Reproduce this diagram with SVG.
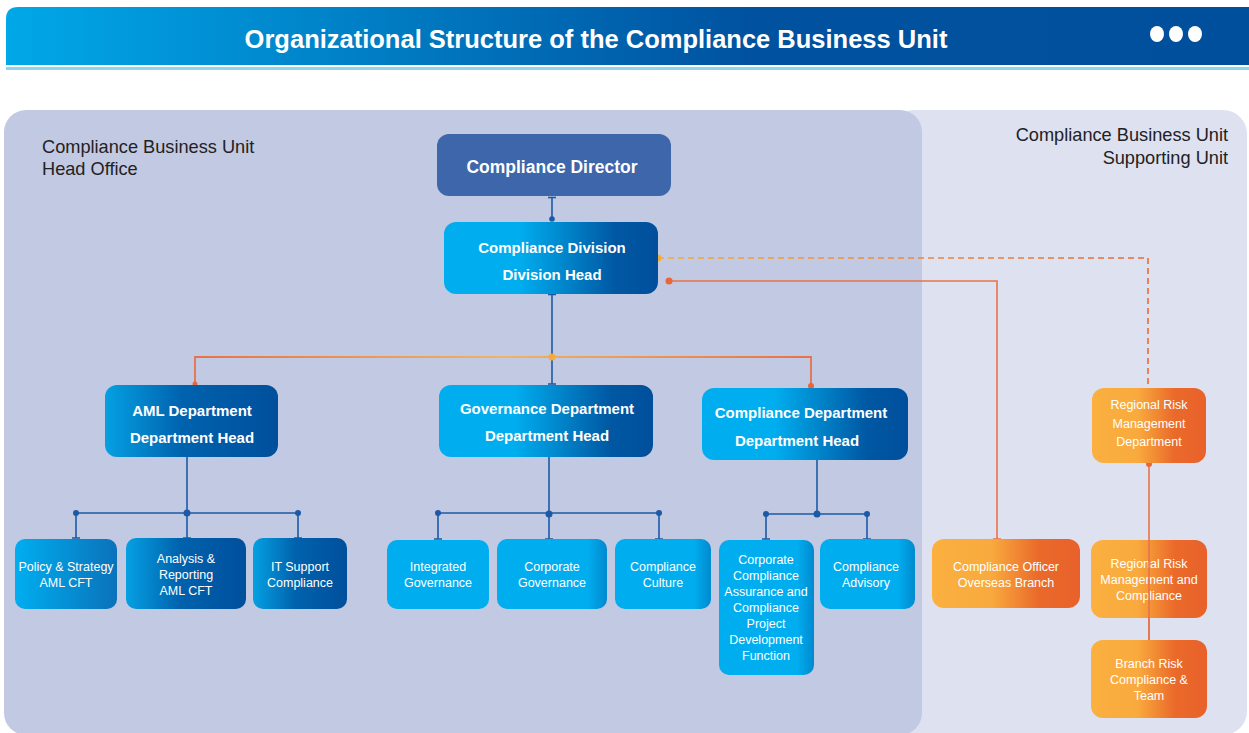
<svg xmlns="http://www.w3.org/2000/svg" width="1249" height="733" viewBox="0 0 1249 733">
<defs>
<linearGradient id="gHeader" x1="0" y1="0" x2="1" y2="0">
<stop offset="0" stop-color="#00a8e8"/><stop offset="0.6" stop-color="#0052a0"/><stop offset="1" stop-color="#004f9c"/>
</linearGradient>
<linearGradient id="gDark" x1="0" y1="0" x2="1" y2="0">
<stop offset="0" stop-color="#05a0e2"/><stop offset="0.45" stop-color="#0062ad"/><stop offset="1" stop-color="#004f9c"/>
</linearGradient>
<linearGradient id="gMid" x1="0" y1="0" x2="1" y2="0">
<stop offset="0" stop-color="#00aeef"/><stop offset="0.35" stop-color="#00aeef"/><stop offset="0.8" stop-color="#0058a3"/><stop offset="1" stop-color="#004f9c"/>
</linearGradient>
<linearGradient id="gLight" x1="0" y1="0" x2="1" y2="0">
<stop offset="0" stop-color="#00aeef"/><stop offset="0.82" stop-color="#00aeef"/><stop offset="1" stop-color="#0089cf"/>
</linearGradient>
<linearGradient id="gPolicy" x1="0" y1="0" x2="1" y2="0">
<stop offset="0" stop-color="#00aeef"/><stop offset="1" stop-color="#0a72bb"/>
</linearGradient>
<linearGradient id="gOrange" x1="0" y1="0" x2="1" y2="0">
<stop offset="0" stop-color="#fbb040"/><stop offset="0.4" stop-color="#f9aa3e"/><stop offset="0.72" stop-color="#ea6a2a"/><stop offset="1" stop-color="#e8612a"/>
</linearGradient>
<linearGradient id="gBranchLine" gradientUnits="userSpaceOnUse" x1="195" y1="0" x2="811" y2="0">
<stop offset="0" stop-color="#e8714a"/><stop offset="0.5" stop-color="#efb463"/><stop offset="1" stop-color="#e8714a"/>
</linearGradient>
<linearGradient id="gDash" gradientUnits="userSpaceOnUse" x1="658" y1="0" x2="1148" y2="0">
<stop offset="0" stop-color="#f7a83a"/><stop offset="1" stop-color="#ec6a34"/>
</linearGradient>
<style>
.title{font-family:"Liberation Sans",Arial,sans-serif;font-weight:bold;fill:#fff;font-size:25.5px}
.lbl{font-family:"Liberation Sans",Arial,sans-serif;font-size:18.2px;fill:#222}
.nb{font-family:"Liberation Sans",Arial,sans-serif;font-weight:bold;font-size:15px;fill:#fff;text-anchor:middle}
.nbl{font-family:"Liberation Sans",Arial,sans-serif;font-weight:bold;font-size:17.5px;fill:#fff;text-anchor:middle}
.ns{font-family:"Liberation Sans",Arial,sans-serif;font-size:12.5px;fill:#fff;text-anchor:middle}
.bl{stroke:#1d5aa6;stroke-width:1.6;fill:none}
.ol{stroke:#e8744a;stroke-width:1.6;fill:none}
.bd{fill:#1d5aa6}
.od{fill:#e8663a}
.yd{fill:#f5ab3c}
</style>
</defs>

<!-- header -->
<path d="M6,19 Q6,7 18,7 H1249 V65 H6 Z" fill="url(#gHeader)"/>
<rect x="6" y="67" width="1243" height="3" fill="#8fd4ec"/>
<text class="title" x="596" y="48" text-anchor="middle">Organizational Structure of the Compliance Business Unit</text>
<ellipse cx="1157" cy="34" rx="7" ry="8" fill="#fff"/>
<ellipse cx="1176" cy="34" rx="7" ry="8" fill="#fff"/>
<ellipse cx="1195" cy="34" rx="7" ry="8" fill="#fff"/>

<!-- backgrounds -->
<rect x="890" y="110" width="357" height="625" rx="24" fill="#dde1f0"/>
<rect x="4" y="110" width="918" height="625" rx="22" fill="#c2c9e2"/>
<text class="lbl" x="42" y="153">Compliance Business Unit</text>
<text class="lbl" x="42" y="175">Head Office</text>
<text class="lbl" x="1228" y="141" text-anchor="end">Compliance Business Unit</text>
<text class="lbl" x="1228" y="164" text-anchor="end">Supporting Unit</text>

<!-- connectors -->
<g id="connectors">
<path class="bl" d="M552,197 V220"/><path class="bl" d="M548,197.5 H556"/><circle class="bd" cx="552" cy="219" r="2.8"/>
<path class="bl" d="M552,294 V384"/><path class="bl" d="M548,294.5 H556"/><path class="bl" d="M548,384 H556"/>
<path d="M195,385 V357 H811 V387" stroke="url(#gBranchLine)" stroke-width="1.8" fill="none"/>
<circle class="od" cx="195" cy="384" r="2.5"/><circle class="od" cx="811" cy="386" r="3"/>
<circle class="yd" cx="552" cy="357" r="3.5"/>
<path d="M658,258 H1148 V397" stroke="url(#gDash)" stroke-width="1.6" stroke-dasharray="6,4" fill="none"/>
<circle class="yd" cx="658" cy="258" r="3.5"/><circle class="od" cx="1148" cy="397" r="3"/>
<path class="ol" d="M669,281 H997 V539"/><circle class="od" cx="669" cy="281" r="3.5"/><path class="ol" d="M993,539 H1001"/>
<path class="ol" d="M1149,463 V640"/><circle class="od" cx="1149" cy="464" r="3"/>
<path class="bl" d="M187,457 V513 M76,513 H298 M76,513 V538 M187,513 V538 M298,513 V538 M72,538 H80 M183,538 H191 M294,538 H302"/>
<circle class="bd" cx="76" cy="513" r="3"/><circle class="bd" cx="187" cy="513" r="3.5"/><circle class="bd" cx="298" cy="513" r="3"/>
<path class="bl" d="M549,457 V513 M438,513 H659 M438,513 V539 M549,513 V539 M659,513 V539 M434,539 H442 M545,539 H553 M655,539 H663"/>
<circle class="bd" cx="438" cy="513" r="3"/><circle class="bd" cx="549" cy="514" r="3.5"/><circle class="bd" cx="659" cy="513" r="3"/>
<path class="bl" d="M817,458 V514 M766,514 H867 M766,514 V539 M867,514 V539 M813,458 H821 M762,539 H770 M863,539 H871"/>
<circle class="bd" cx="766" cy="514" r="3"/><circle class="bd" cx="817" cy="514" r="3.5"/><circle class="bd" cx="867" cy="514" r="3"/>
</g>

<!-- nodes -->
<g id="director"><rect x="437" y="134" width="234" height="62" rx="12" fill="#3d66ab"/>
<text class="nbl" x="552" y="173">Compliance Director</text></g>
<g id="division"><rect x="444" y="222" width="214" height="72" rx="12" fill="url(#gMid)"/>
<text class="nb" x="552" y="253">Compliance Division</text><text class="nb" x="552" y="280">Division Head</text></g>

<g id="aml"><rect x="105" y="385" width="173" height="72" rx="12" fill="url(#gDark)"/>
<text class="nb" x="192" y="416">AML Department</text><text class="nb" x="192" y="443">Department Head</text></g>
<g id="governance"><rect x="439" y="385" width="214" height="72" rx="12" fill="url(#gMid)"/>
<text class="nb" x="547" y="414">Governance Department</text><text class="nb" x="547" y="441">Department Head</text></g>
<g id="compliance-dept"><rect x="702" y="388" width="206" height="72" rx="12" fill="url(#gMid)"/>
<text class="nb" x="801" y="418">Compliance Department</text><text class="nb" x="797" y="446">Department Head</text></g>

<g id="policy"><rect x="15" y="539" width="102" height="70" rx="10" fill="url(#gPolicy)"/>
<text class="ns" x="66" y="571">Policy &amp; Strategy</text><text class="ns" x="66" y="587">AML CFT</text></g>
<g id="analysis"><rect x="126" y="538" width="120" height="71" rx="10" fill="url(#gDark)"/>
<text class="ns" x="186" y="563">Analysis &amp;</text><text class="ns" x="186" y="579">Reporting</text><text class="ns" x="186" y="595">AML CFT</text></g>
<g id="itsupport"><rect x="253" y="538" width="94" height="71" rx="10" fill="url(#gDark)"/>
<text class="ns" x="300" y="571">IT Support</text><text class="ns" x="300" y="587">Compliance</text></g>

<g id="integrated"><rect x="387" y="540" width="102" height="69" rx="10" fill="#00aeef"/>
<text class="ns" x="438" y="571">Integrated</text><text class="ns" x="438" y="587">Governance</text></g>
<g id="corporate-gov"><rect x="497" y="539" width="110" height="70" rx="10" fill="url(#gLight)"/>
<text class="ns" x="552" y="571">Corporate</text><text class="ns" x="552" y="587">Governance</text></g>
<g id="culture"><rect x="615" y="539" width="96" height="70" rx="10" fill="url(#gLight)"/>
<text class="ns" x="663" y="571">Compliance</text><text class="ns" x="663" y="587">Culture</text></g>

<g id="assurance"><rect x="719" y="540" width="95" height="135" rx="10" fill="url(#gLight)"/>
<text class="ns" x="766" y="564">Corporate</text><text class="ns" x="766" y="580">Compliance</text><text class="ns" x="766" y="596">Assurance and</text><text class="ns" x="766" y="612">Compliance</text><text class="ns" x="766" y="628">Project</text><text class="ns" x="766" y="644">Development</text><text class="ns" x="766" y="660">Function</text></g>
<g id="advisory"><rect x="820" y="539" width="95" height="70" rx="10" fill="url(#gLight)"/>
<text class="ns" x="866" y="571">Compliance</text><text class="ns" x="866" y="587">Advisory</text></g>

<g id="regional-dept"><rect x="1092" y="388" width="114" height="75" rx="12" fill="url(#gOrange)"/>
<text class="ns" x="1149" y="409">Regional Risk</text><text class="ns" x="1149" y="428">Management</text><text class="ns" x="1149" y="446">Department</text></g>
<g id="overseas"><rect x="932" y="539" width="148" height="69" rx="12" fill="url(#gOrange)"/>
<text class="ns" x="1006" y="571">Compliance Officer</text><text class="ns" x="1006" y="587">Overseas Branch</text></g>
<g id="regional-compliance"><rect x="1091" y="540" width="116" height="78" rx="12" fill="url(#gOrange)"/>
<text class="ns" x="1149" y="568">Regional Risk</text><text class="ns" x="1149" y="584">Management and</text><text class="ns" x="1149" y="600">Compliance</text></g>
<g id="branch"><rect x="1091" y="640" width="116" height="78" rx="12" fill="url(#gOrange)"/>
<text class="ns" x="1149" y="668">Branch Risk</text><text class="ns" x="1149" y="684">Compliance &amp;</text><text class="ns" x="1149" y="700">Team</text></g>
<path class="ol" d="M1149,540 V640"/>
</svg>
